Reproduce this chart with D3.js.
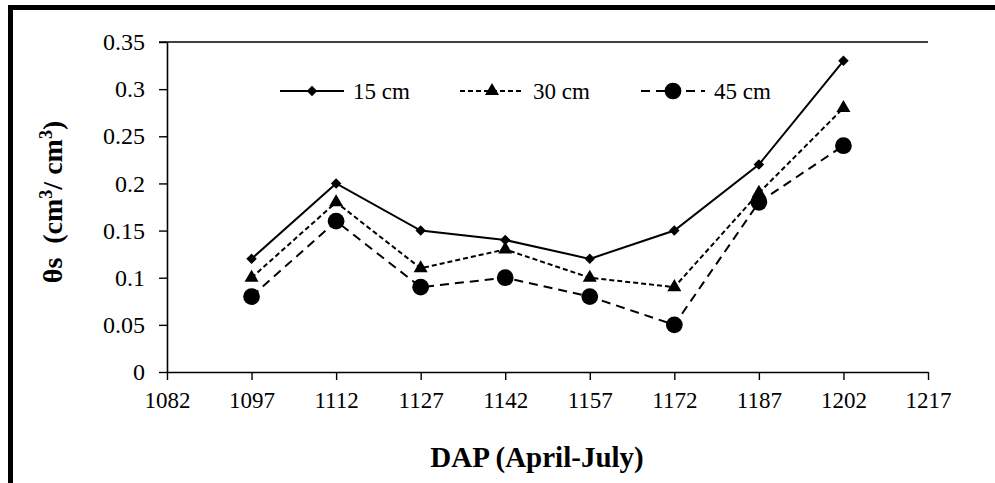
<!DOCTYPE html>
<html>
<head>
<meta charset="utf-8">
<script src="https://cdn.jsdelivr.net/npm/d3@7"></script>
<style>
  body { margin: 0; background: #fff; }
  svg { display: block; }
</style>
</head>
<body>
<div id="chart"></div>
<script>
// data
const days = [1097, 1112, 1127, 1142, 1157, 1172, 1187, 1202];
const xTicks = [1082, 1097, 1112, 1127, 1142, 1157, 1172, 1187, 1202, 1217];
const yTicks = [0, 0.05, 0.1, 0.15, 0.2, 0.25, 0.3, 0.35];
const depth15 = [0.12, 0.20, 0.15, 0.14, 0.12, 0.15, 0.22, 0.33];
const depth30 = [0.10, 0.18, 0.11, 0.13, 0.10, 0.09, 0.19, 0.28];
const depth45 = [0.08, 0.16, 0.09, 0.10, 0.08, 0.05, 0.18, 0.24];
const seriesNames = ['15 cm', '30 cm', '45 cm'];

const width = 995;
const height = 483;
const plot = { left: 167, right: 928, top: 42, bottom: 372 };

const svg = d3.select('#chart')
  .append('svg')
  .attr('width', width)
  .attr('height', height);

// outer frame (thick, cut by the picture edges)
svg.append('rect')
  .attr('x', 10.5)
  .attr('y', 7.5)
  .attr('width', width + 20)
  .attr('height', height + 20)
  .attr('fill', 'none')
  .attr('stroke', '#000')
  .attr('stroke-width', 5);

const x = d3.scaleLinear()
  .domain([1082, 1217])
  .range([plot.left, plot.right]);

const y = d3.scaleLinear()
  .domain([0, 0.35])
  .range([plot.bottom, plot.top]);

const serif = '"Liberation Serif", "Times New Roman", serif';

// x axis
const xAxis = svg.append('g')
  .attr('transform', `translate(0,${plot.bottom})`)
  .call(d3.axisBottom(x).tickValues(xTicks).tickSize(8).tickSizeOuter(0).tickPadding(12).tickFormat(d3.format('d')));
xAxis.select('.domain').attr('stroke-width', 1.6);
xAxis.selectAll('.tick line').attr('stroke-width', 1.4);
xAxis.selectAll('text')
  .style('font-family', serif)
  .style('font-size', '23px')
  .attr('fill', '#000');

// y axis
const yAxis = svg.append('g')
  .attr('transform', `translate(${plot.left},0)`)
  .call(d3.axisLeft(y).tickValues(yTicks).tickSize(8).tickSizeOuter(0).tickPadding(14).tickFormat(d => d3.format('')(+d.toFixed(2))));
yAxis.select('.domain').attr('stroke-width', 1.6);
yAxis.selectAll('.tick line').attr('stroke-width', 1.4);
yAxis.selectAll('text')
  .style('font-family', serif)
  .style('font-size', '24px')
  .attr('fill', '#000');

// top border of the plot area
svg.append('line')
  .attr('x1', plot.left - 8)
  .attr('x2', plot.right)
  .attr('y1', y(0.35))
  .attr('y2', y(0.35))
  .attr('stroke', '#000')
  .attr('stroke-width', 1.6);

// axis titles
svg.append('text')
  .attr('x', 537)
  .attr('y', 467)
  .attr('text-anchor', 'middle')
  .style('font-family', serif)
  .style('font-weight', 'bold')
  .style('font-size', '29px')
  .text('DAP (April-July)');

const yTitle = svg.append('text')
  .attr('transform', 'translate(62,202) rotate(-90)')
  .attr('text-anchor', 'middle')
  .style('font-family', serif)
  .style('font-weight', 'bold')
  .style('font-size', '28px')
  .style('white-space', 'pre');
yTitle.append('tspan').text('θs  (cm');
yTitle.append('tspan').attr('dy', -10).style('font-size', '18px').text('3');
yTitle.append('tspan').attr('dy', 10).text('/ cm');
yTitle.append('tspan').attr('dy', -10).style('font-size', '18px').text('3');
yTitle.append('tspan').attr('dy', 10).text(')');

// series
const series = [
  { name: seriesNames[0], values: depth15, dash: null, symbol: d3.symbolDiamond2 || d3.symbolDiamond, size: 70 },
  { name: seriesNames[1], values: depth30, dash: '5,3', symbol: d3.symbolTriangle, size: 85 },
  { name: seriesNames[2], values: depth45, dash: '9,6', symbol: d3.symbolCircle, size: 220 }
];

const line = d3.line()
  .x((d, i) => x(days[i]))
  .y(d => y(d));

series.forEach(s => {
  svg.append('path')
    .datum(s.values)
    .attr('d', line)
    .attr('fill', 'none')
    .attr('stroke', '#000')
    .attr('stroke-width', 2)
    .attr('stroke-dasharray', s.dash);

  svg.append('g')
    .selectAll('path')
    .data(s.values)
    .join('path')
    .attr('transform', (d, i) => `translate(${x(days[i])},${y(d)})`)
    .attr('d', d3.symbol().type(s.symbol).size(s.size))
    .attr('fill', '#000');
});

// legend
const legendX = [280, 460, 641];
const legend = svg.append('g');
series.forEach((s, i) => {
  const g = legend.append('g').attr('transform', `translate(${legendX[i]},91)`);
  g.append('line')
    .attr('x1', 0)
    .attr('x2', 64)
    .attr('stroke', '#000')
    .attr('stroke-width', 2)
    .attr('stroke-dasharray', s.dash);
  g.append('path')
    .attr('transform', 'translate(32,0)')
    .attr('d', d3.symbol().type(s.symbol).size(s.size))
    .attr('fill', '#000');
  g.append('text')
    .attr('x', 73)
    .attr('y', 8)
    .style('font-family', serif)
    .style('font-size', '23px')
    .text(s.name);
});
</script>
</body>
</html>
